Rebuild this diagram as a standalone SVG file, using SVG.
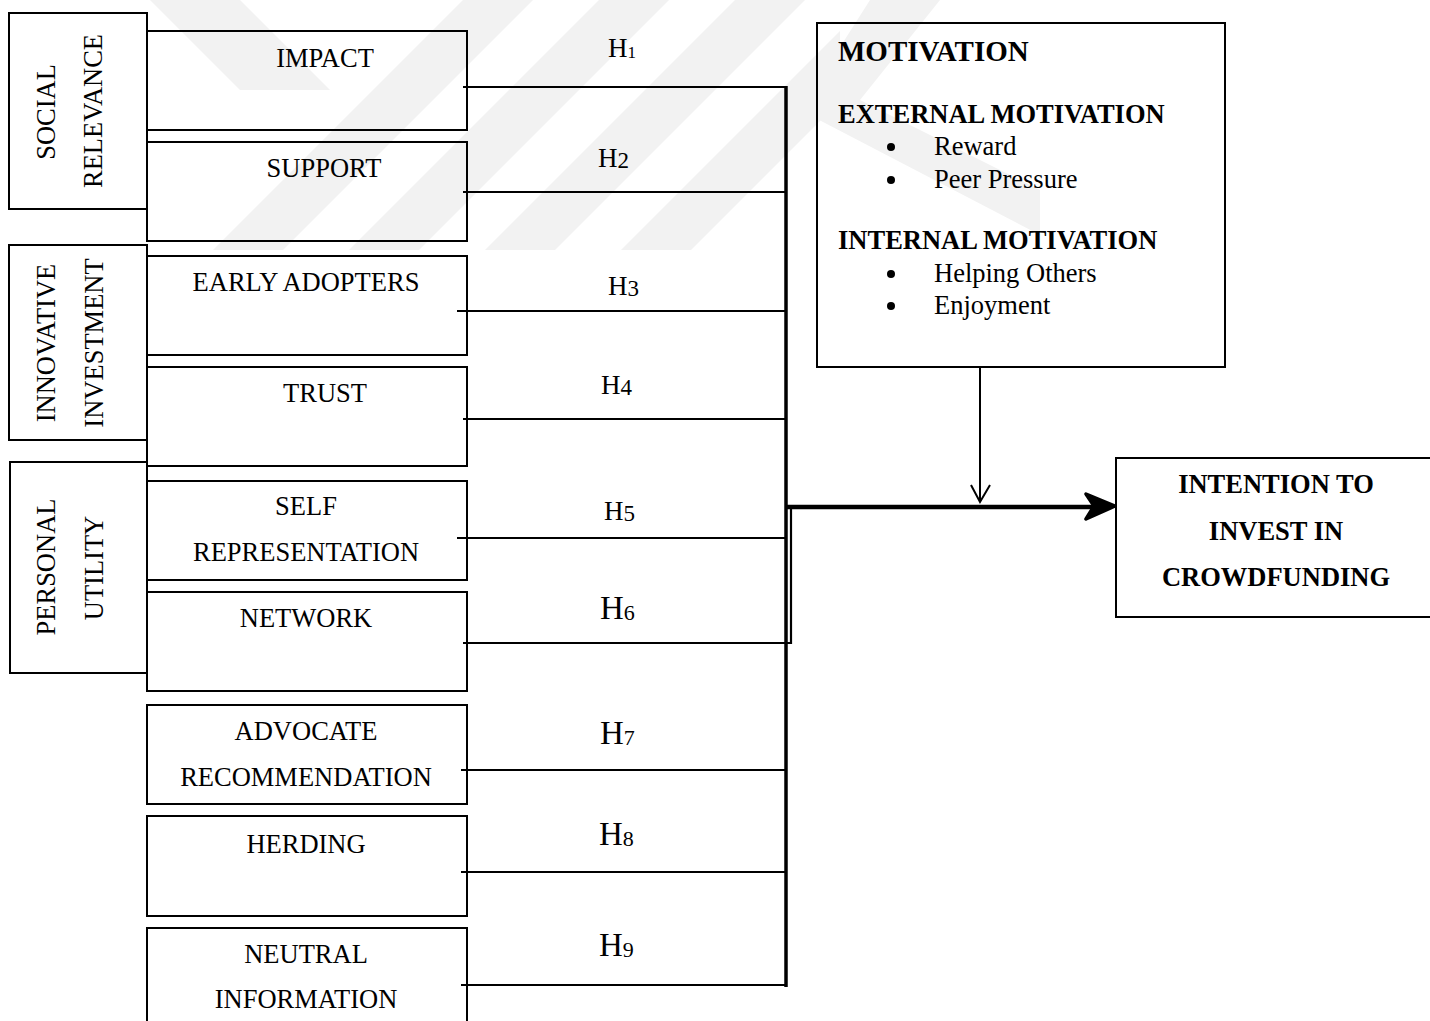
<svg xmlns="http://www.w3.org/2000/svg" width="1430" height="1021" viewBox="0 0 1430 1021">
  <style>
    .box { fill: none; stroke: #000; stroke-width: 2; }
    .t { font-family: "Liberation Serif", "Times New Roman", serif; font-size: 26.5px; fill: #000; }
    .c { text-anchor: middle; }
    .b { font-weight: bold; }
    .h { font-family: "Liberation Serif", "Times New Roman", serif; font-size: 27px; fill: #000; }
    .hb { font-family: "Liberation Serif", "Times New Roman", serif; font-size: 33px; fill: #000; }
    .link { fill: none; stroke: #000; stroke-width: 2.2; }
    .bus { fill: none; stroke: #000; stroke-width: 3.5; }
    .wm { fill: #f2f2f2; }
  </style>
  <defs>
    <clipPath id="wmClip">
      <rect x="140" y="0" width="700" height="250"/>
    </clipPath>
  </defs>

  <rect x="0" y="0" width="1430" height="1021" fill="#fff"/>

  <!-- faint background mark -->
  <g id="watermark">
    <g clip-path="url(#wmClip)">
      <polygon class="wm" points="213,250 283,250 533,0 463,0"/>
      <polygon class="wm" points="349,250 419,250 669,0 599,0"/>
      <polygon class="wm" points="485,250 555,250 805,0 735,0"/>
      <polygon class="wm" points="621,250 691,250 941,0 871,0"/>
    </g>
    <polygon class="wm" points="150,0 240,0 330,90 240,90"/>
    <polygon class="wm" points="870,0 940,0 860,100 1040,190 1040,235 800,110"/>
  </g>

  <!-- group boxes -->
  <g id="social-relevance">
    <rect class="box" x="9" y="13" width="138" height="196" fill="#fff"/>
    <text class="t c" transform="translate(55,112) rotate(-90)">SOCIAL</text>
    <text class="t c" transform="translate(102,111) rotate(-90)">RELEVANCE</text>
  </g>
  <g id="innovative-investment">
    <rect class="box" x="9" y="245" width="138" height="195" fill="#fff"/>
    <text class="t c" transform="translate(55,343) rotate(-90)">INNOVATIVE</text>
    <text class="t c" transform="translate(103,343) rotate(-90)">INVESTMENT</text>
  </g>
  <g id="personal-utility">
    <rect class="box" x="10" y="462" width="137" height="211" fill="#fff"/>
    <text class="t c" transform="translate(55,567) rotate(-90)">PERSONAL</text>
    <text class="t c" transform="translate(103,568) rotate(-90)">UTILITY</text>
  </g>

  <!-- factor boxes -->
  <g id="impact">
    <rect class="box" x="147" y="31" width="320" height="99"/>
    <text class="t c" x="325" y="67">IMPACT</text>
  </g>
  <g id="support">
    <rect class="box" x="147" y="142" width="320" height="99"/>
    <text class="t c" x="324" y="177">SUPPORT</text>
  </g>
  <g id="early-adopters">
    <rect class="box" x="147" y="256" width="320" height="99"/>
    <text class="t c" x="306" y="291">EARLY ADOPTERS</text>
  </g>
  <g id="trust">
    <rect class="box" x="147" y="367" width="320" height="99"/>
    <text class="t c" x="325" y="402">TRUST</text>
  </g>
  <g id="self-representation">
    <rect class="box" x="147" y="481" width="320" height="99"/>
    <text class="t c" x="306" y="515">SELF</text>
    <text class="t c" x="306" y="561">REPRESENTATION</text>
  </g>
  <g id="network">
    <rect class="box" x="147" y="592" width="320" height="99"/>
    <text class="t c" x="306" y="627">NETWORK</text>
  </g>
  <g id="advocate-recommendation">
    <rect class="box" x="147" y="705" width="320" height="99"/>
    <text class="t c" x="306" y="740">ADVOCATE</text>
    <text class="t c" x="306" y="786">RECOMMENDATION</text>
  </g>
  <g id="herding">
    <rect class="box" x="147" y="816" width="320" height="100"/>
    <text class="t c" x="306" y="853">HERDING</text>
  </g>
  <g id="neutral-information">
    <rect class="box" x="147" y="928" width="320" height="110"/>
    <text class="t c" x="306" y="963">NEUTRAL</text>
    <text class="t c" x="306" y="1008">INFORMATION</text>
  </g>

  <!-- motivation box -->
  <g id="motivation">
    <rect class="box" x="817" y="23" width="408" height="344"/>
    <text class="t b" x="838" y="61" style="font-size:29px">MOTIVATION</text>
    <text class="t b" x="838" y="123">EXTERNAL MOTIVATION</text>
    <circle cx="891" cy="147" r="4"/>
    <text class="t" x="934" y="155">Reward</text>
    <circle cx="891" cy="180" r="4"/>
    <text class="t" x="934" y="188">Peer Pressure</text>
    <text class="t b" x="838" y="249">INTERNAL MOTIVATION</text>
    <circle cx="891" cy="274" r="4"/>
    <text class="t" x="934" y="282">Helping Others</text>
    <circle cx="891" cy="306" r="4"/>
    <text class="t" x="934" y="314">Enjoyment</text>
  </g>

  <!-- outcome box -->
  <g id="intention">
    <rect class="box" x="1116" y="458" width="330" height="159"/>
    <text class="t b c" x="1276" y="493">INTENTION TO</text>
    <text class="t b c" x="1276" y="540">INVEST IN</text>
    <text class="t b c" x="1276" y="586">CROWDFUNDING</text>
  </g>

  <!-- connectors -->
  <g id="connectors">
    <path class="link" d="M463,87 H786"/>
    <path class="link" d="M463,192 H786"/>
    <path class="link" d="M457,311 H786"/>
    <path class="link" d="M463,419 H786"/>
    <path class="link" d="M457,538 H786"/>
    <path class="link" d="M463,643 H791 V507"/>
    <path class="link" d="M461,770 H786"/>
    <path class="link" d="M461,872 H786"/>
    <path class="link" d="M461,985 H786"/>
    <path class="bus" d="M786,86 V987"/>
    <path d="M786,507 H1098" fill="none" stroke="#000" stroke-width="4.5"/>
    <path d="M1115,506 L1086,494 L1094,506 L1086,519 Z" fill="#000" stroke="#000" stroke-width="3.5" stroke-linejoin="round"/>
    <path d="M980,367 V502" fill="none" stroke="#000" stroke-width="2"/>
    <path d="M971,485 L980,502 L990,485" fill="none" stroke="#000" stroke-width="2"/>
  </g>

  <!-- hypothesis labels -->
  <g id="labels">
    <text class="h" x="608" y="57">H<tspan font-size="17" dy="1">1</tspan></text>
    <text class="h" x="598" y="167">H<tspan font-size="23" dy="1">2</tspan></text>
    <text class="h" x="608" y="295">H<tspan font-size="23" dy="1">3</tspan></text>
    <text class="h" x="601" y="394">H<tspan font-size="23" dy="1">4</tspan></text>
    <text class="h" x="604" y="520">H<tspan font-size="23" dy="1">5</tspan></text>
    <text class="hb" x="600" y="619">H<tspan font-size="22" dy="1">6</tspan></text>
    <text class="hb" x="600" y="744">H<tspan font-size="22" dy="1">7</tspan></text>
    <text class="hb" x="599" y="845">H<tspan font-size="22" dy="1">8</tspan></text>
    <text class="hb" x="599" y="956">H<tspan font-size="22" dy="1">9</tspan></text>
  </g>
</svg>
